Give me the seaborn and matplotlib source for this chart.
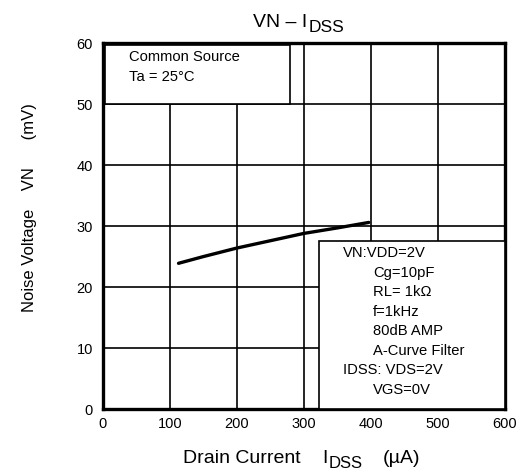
import matplotlib
matplotlib.use("Agg")
import matplotlib.pyplot as plt
import pandas as pd
import seaborn as sns
from matplotlib.patches import Rectangle

idss = [113, 150, 200, 250, 300, 350, 397]
vn = [23.9, 25.0, 26.4, 27.6, 28.8, 29.7, 30.6]
xticks = [0, 100, 200, 300, 400, 500, 600]
yticks = [0, 10, 20, 30, 40, 50, 60]
cond_lines = ["VN:VDD=2V", "Cg=10pF", "RL= 1k\u03a9", "f=1kHz", "80dB AMP",
              "A-Curve Filter", "IDSS: VDS=2V", "VGS=0V"]
cond_indent = [False, True, True, True, True, True, False, True]

sns.set_style("white")
plt.rcParams["font.family"] = ["Liberation Sans", "DejaVu Sans"]
for k in ["text.color", "axes.labelcolor", "xtick.color", "ytick.color"]:
    plt.rcParams[k] = "black"

df = pd.DataFrame({"IDSS": idss, "VN": vn})

W, H = 522, 474
fig = plt.figure(figsize=(W / 100, H / 100), dpi=100)
ax = fig.add_axes([0.197, 0.137, 0.770, 0.772])
sns.lineplot(data=df, x="IDSS", y="VN", ax=ax, color="black", linewidth=2.4, zorder=2)

ax.set_xlim(0, 600)
ax.set_ylim(0, 60)
ax.set_xticks(xticks)
ax.set_yticks(yticks)
ax.tick_params(length=0, labelsize=10.5)
ax.tick_params(axis="x", pad=6)
ax.tick_params(axis="y", pad=7)
ax.set_axisbelow(True)
ax.grid(True, color="black", linewidth=1.2)
for s in ax.spines.values():
    s.set_linewidth(2.4)
    s.set_color("black")

ax.set_xlabel("")
ax.set_ylabel("Noise Voltage    VN      (mV)", fontsize=12)
ax.yaxis.set_label_coords(-0.163, 0.5505)

# title and x label with large subscripts, placed piece by piece
renderer = fig.canvas.get_renderer()


def text_with_sub(x, y, main, sub, tail, size, subsize, drop):
    t = fig.text(x / W, 1 - y / H, main, fontsize=size, va="baseline")
    bb = t.get_window_extent(renderer)
    s = fig.text((bb.x1 + 1) / W, 1 - (y + drop) / H, sub, fontsize=subsize, va="baseline")
    if tail:
        sb = s.get_window_extent(renderer)
        fig.text((sb.x1 + 20) / W, 1 - y / H, tail, fontsize=size, va="baseline")


text_with_sub(253, 27, "VN \u2013 I", "DSS", "", 14, 12.5, 5)
fig.text(183 / W, 1 - 463 / H, "Drain Current", fontsize=14, va="baseline")
text_with_sub(322, 463, "I", "DSS", "(\u00b5A)", 14, 12, 5)

ax.add_patch(Rectangle((0.006, 50), 0.459, 9.7, transform=ax.get_yaxis_transform(),
                       facecolor="white", edgecolor="black", linewidth=1.2, zorder=3))
ax.text(0.065, 0.962, "Common Source", transform=ax.transAxes, fontsize=10.6,
        va="center", zorder=4)
ax.text(0.065, 0.907, "Ta = 25\u00b0C", transform=ax.transAxes, fontsize=10.6,
        va="center", zorder=4)

ax.add_patch(Rectangle((0.537, 0), 0.463, 27.5, transform=ax.get_yaxis_transform(),
                       facecolor="white", edgecolor="black", linewidth=1.2, zorder=3))
for i, (line, ind) in enumerate(zip(cond_lines, cond_indent)):
    ax.text(0.672 if ind else 0.597, 0.426 - i * 0.0533, line, transform=ax.transAxes,
            fontsize=10.6, va="center", zorder=4)

fig.savefig("out.png", dpi=100)
